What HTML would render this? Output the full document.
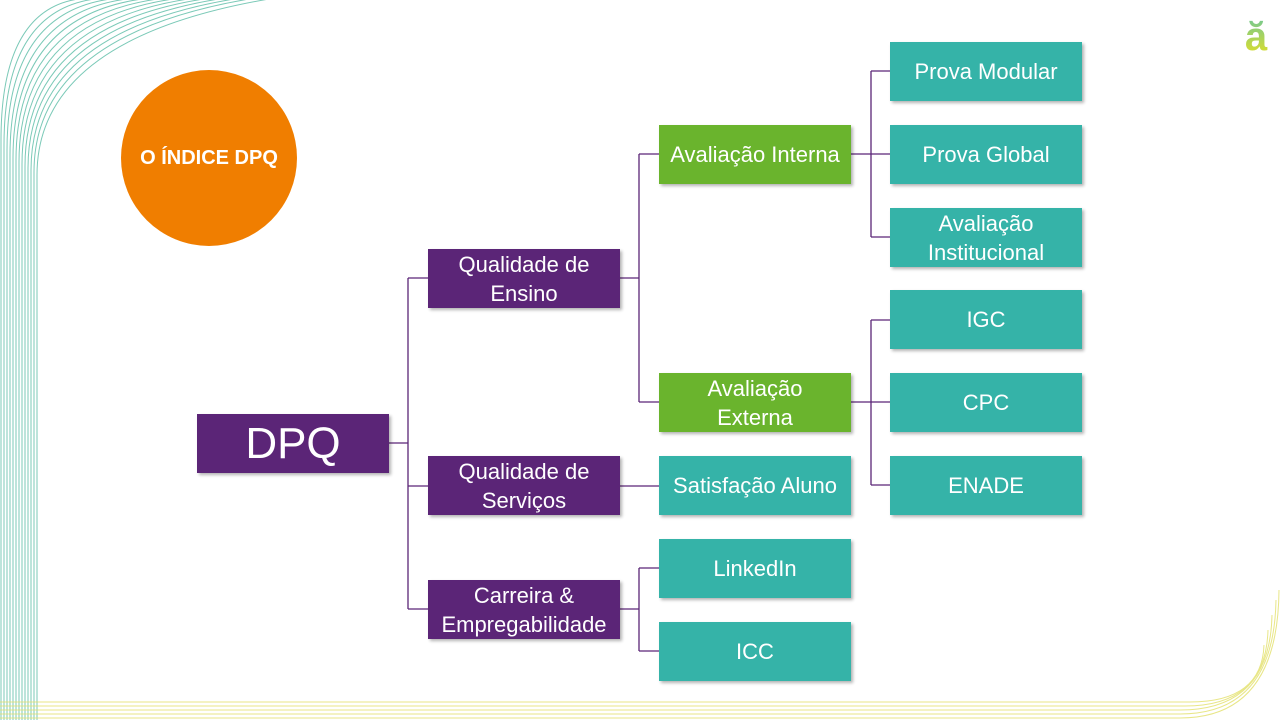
<!DOCTYPE html>
<html><head><meta charset="utf-8"><style>
body{margin:0;width:1280px;height:720px;position:relative;overflow:hidden;background:#fff;font-family:"Liberation Sans","DejaVu Sans",sans-serif}
.b{position:absolute;width:192px;height:59px;display:flex;align-items:center;justify-content:center;text-align:center;color:#fff;font-size:22px;line-height:29px;box-shadow:2px 2px 3px rgba(0,0,0,.3)}
.p{background:#5B2577}.g{background:#6AB42D}.t{background:#35B3A8}
</style></head><body>
<svg width="1280" height="720" style="position:absolute;left:0;top:0">
<g fill="none" stroke="#4fb8a0" stroke-width="1" opacity="0.75">
<path d="M1 720 L1 140 Q1 1 90 -2"/>
<path d="M4 720 L4 145 Q4 4 105 -2"/>
<path d="M7 720 L7 150 Q7 7 120 -2"/>
<path d="M10 720 L10 155 Q10 10 135 -2"/>
<path d="M13 720 L13 158 Q13 13 150 -2"/>
<path d="M16 720 L16 160 Q16 16 165 -2"/>
<path d="M19 720 L19 162 Q19 19 180 -2"/>
<path d="M22 720 L22 164 Q22 22 195 -2"/>
<path d="M25 720 L25 166 Q25 25 210 -2"/>
<path d="M28 720 L28 168 Q28 28 225 -2"/>
<path d="M31 720 L31 170 Q31 31 240 -2"/>
<path d="M34 720 L34 172 Q34 34 255 -2"/>
<path d="M37 720 L37 175 Q37 37 275 -2"/>
</g>
<g fill="none" stroke="#e3e06a" stroke-width="1" opacity="0.8">
<path d="M0 718 L1180 718 Q1278 718 1279 590"/>
<path d="M0 714 L1180 714 Q1274 714 1276 600"/>
<path d="M0 710 L1180 710 Q1270 710 1272 615"/>
<path d="M0 706 L1185 706 Q1266 706 1268 630"/>
<path d="M0 702 L1190 702 Q1262 702 1264 645"/>
</g>
<defs><linearGradient id="lg" x1="0" y1="0" x2="0" y2="1"><stop offset="0" stop-color="#6cc79a"/><stop offset="1" stop-color="#e8e020"/></linearGradient></defs>
<text x="1256" y="50" font-size="40" font-weight="bold" fill="url(#lg)" text-anchor="middle" font-family="Liberation Sans">ă</text>
<g fill="none" stroke="#5B2577" stroke-width="1.3">
<path d="M389 443H408M408 278V609M408 278H428M408 486H428M408 609H428"/>
<path d="M620 278H639M639 154V402M639 154H659M639 402H659"/>
<path d="M620 486H659"/>
<path d="M620 609H639M639 568V651M639 568H659M639 651H659"/>
<path d="M851 154H871M871 71V237M871 71H890M871 154H890M871 237H890"/>
<path d="M851 402H871M871 320V485M871 320H890M871 402H890M871 485H890"/>
</g>
</svg>
<div style="position:absolute;left:121px;top:70px;width:176px;height:176px;border-radius:50%;background:#F07E00;color:#fff;font-weight:bold;font-size:20px;display:flex;align-items:center;justify-content:center">O ÍNDICE DPQ</div>
<div class="b p" style="left:197px;top:414px;font-size:44px">DPQ</div>
<div class="b p" style="left:428px;top:249px">Qualidade de<br>Ensino</div>
<div class="b p" style="left:428px;top:456px">Qualidade de<br>Serviços</div>
<div class="b p" style="left:428px;top:580px">Carreira &amp;<br>Empregabilidade</div>
<div class="b g" style="left:659px;top:125px">Avaliação Interna</div>
<div class="b g" style="left:659px;top:373px">Avaliação<br>Externa</div>
<div class="b t" style="left:659px;top:456px">Satisfação Aluno</div>
<div class="b t" style="left:659px;top:539px">LinkedIn</div>
<div class="b t" style="left:659px;top:622px">ICC</div>
<div class="b t" style="left:890px;top:42px">Prova Modular</div>
<div class="b t" style="left:890px;top:125px">Prova Global</div>
<div class="b t" style="left:890px;top:208px">Avaliação<br>Institucional</div>
<div class="b t" style="left:890px;top:290px">IGC</div>
<div class="b t" style="left:890px;top:373px">CPC</div>
<div class="b t" style="left:890px;top:456px">ENADE</div>
</body></html>
